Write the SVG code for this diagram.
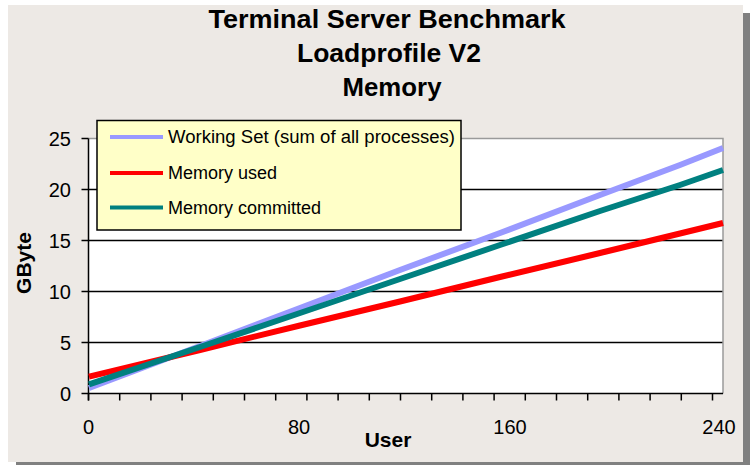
<svg xmlns="http://www.w3.org/2000/svg" width="750" height="465" viewBox="0 0 750 465">
  <style>
    .title { font-family: "Liberation Sans", Arial, sans-serif; font-weight: bold; font-size: 25px; fill: #000; text-anchor: middle; }
    .axis-title { font-family: "Liberation Sans", Arial, sans-serif; font-weight: bold; font-size: 21px; fill: #000; text-anchor: middle; }
    .tick-label { font-family: "Liberation Sans", Arial, sans-serif; font-size: 20px; fill: #000; }
    .legend-label { font-family: "Liberation Sans", Arial, sans-serif; font-size: 18px; fill: #000; }
    .grid { stroke: #000; stroke-width: 1.5; }
    .tick { stroke: #000; stroke-width: 1.5; }
    .series { fill: none; stroke-width: 6; stroke-linecap: butt; stroke-linejoin: round; }
    .ws { stroke: #9999FF; }
    .used { stroke: #FF0000; }
    .committed { stroke: #008080; }
  </style>

  <!-- page background and drop shadow of the chart area -->
  <rect x="0" y="0" width="750" height="465" fill="#FFFFFF"/>
  <rect x="16" y="13" width="734" height="452" fill="#808080"/>
  <rect x="8" y="5" width="735" height="457" fill="#EDE9E5"/>

  <!-- titles -->
  <g id="title">
    <text class="title" x="387" y="28" textLength="357" lengthAdjust="spacingAndGlyphs">Terminal Server Benchmark</text>
    <text class="title" x="389" y="62" textLength="184" lengthAdjust="spacingAndGlyphs">Loadprofile V2</text>
    <text class="title" x="392" y="96" textLength="99" lengthAdjust="spacingAndGlyphs">Memory</text>
  </g>

  <!-- plot area -->
  <g id="plot-area">
    <rect x="88.5" y="138.5" width="634.5" height="255" fill="#FFFFFF"/>
    <line class="grid" x1="88.5" y1="189.5" x2="723" y2="189.5"/>
    <line class="grid" x1="88.5" y1="240.5" x2="723" y2="240.5"/>
    <line class="grid" x1="88.5" y1="291.5" x2="723" y2="291.5"/>
    <line class="grid" x1="88.5" y1="342.5" x2="723" y2="342.5"/>
    <!-- grey border on top and right -->
    <polyline points="88.5,138.5 723,138.5 723,393.5" fill="none" stroke="#9A9A9A" stroke-width="1.5"/>
  </g>

  <!-- value axis -->
  <g id="y-axis">
    <line class="tick" x1="88.5" y1="138.5" x2="88.5" y2="400.5"/>
    <line class="tick" x1="81.5" y1="138.5" x2="88.5" y2="138.5"/>
    <line class="tick" x1="81.5" y1="189.5" x2="88.5" y2="189.5"/>
    <line class="tick" x1="81.5" y1="240.5" x2="88.5" y2="240.5"/>
    <line class="tick" x1="81.5" y1="291.5" x2="88.5" y2="291.5"/>
    <line class="tick" x1="81.5" y1="342.5" x2="88.5" y2="342.5"/>
    <line class="tick" x1="81.5" y1="393.5" x2="88.5" y2="393.5"/>
    <g class="tick-label" text-anchor="end">
      <text x="71" y="146">25</text>
      <text x="71" y="197">20</text>
      <text x="71" y="248">15</text>
      <text x="71" y="299">10</text>
      <text x="71" y="350">5</text>
      <text x="71" y="401">0</text>
    </g>
    <text class="axis-title" transform="translate(31,263) rotate(-90)">GByte</text>
  </g>

  <!-- category axis -->
  <g id="x-axis">
    <line class="tick" x1="88.5" y1="393.5" x2="723" y2="393.5"/>
    <path class="tick" fill="none" d="M88.5,393.5v7 M119.7,393.5v7 M150.9,393.5v7 M182.1,393.5v7 M213.3,393.5v7 M244.5,393.5v7 M275.7,393.5v7 M306.9,393.5v7 M338.1,393.5v7 M369.3,393.5v7 M400.5,393.5v7 M431.7,393.5v7 M462.9,393.5v7 M494.1,393.5v7 M525.3,393.5v7 M556.5,393.5v7 M587.7,393.5v7 M618.9,393.5v7 M650.1,393.5v7 M681.3,393.5v7 M712.5,393.5v7"/>
    <g class="tick-label" text-anchor="middle">
      <text x="88.5" y="434">0</text>
      <text x="299" y="434">80</text>
      <text x="510" y="434">160</text>
      <text x="719" y="434">240</text>
    </g>
    <text class="axis-title" x="388" y="447">User</text>
  </g>

  <!-- data series -->
  <g id="series">
    <polyline id="working-set" class="series ws" points="89,388 200,346 300,308 400,270 500,233 600,195 680,165 723,148"/>
    <polyline id="memory-used" class="series used" points="89,376.7 200,350 300,325.5 400,301.5 500,277 600,253 680,233.5 723,223"/>
    <polyline id="memory-committed" class="series committed" points="89,384.3 200,347 300,313 400,279 500,245 600,211 680,185 723,170"/>
  </g>

  <!-- legend -->
  <g id="legend">
    <rect x="97" y="120.5" width="364" height="109.5" fill="#FFFFC8" stroke="#000" stroke-width="1.5"/>
    <line x1="110" y1="137" x2="163" y2="137" stroke="#9999FF" stroke-width="4"/>
    <text class="legend-label" x="168" y="143" textLength="287" lengthAdjust="spacingAndGlyphs">Working Set (sum of all processes)</text>
    <line x1="110" y1="173" x2="163" y2="173" stroke="#FF0000" stroke-width="4"/>
    <text class="legend-label" x="168" y="179">Memory used</text>
    <line x1="110" y1="207.5" x2="163" y2="207.5" stroke="#008080" stroke-width="4"/>
    <text class="legend-label" x="168" y="213.5">Memory committed</text>
  </g>
</svg>
